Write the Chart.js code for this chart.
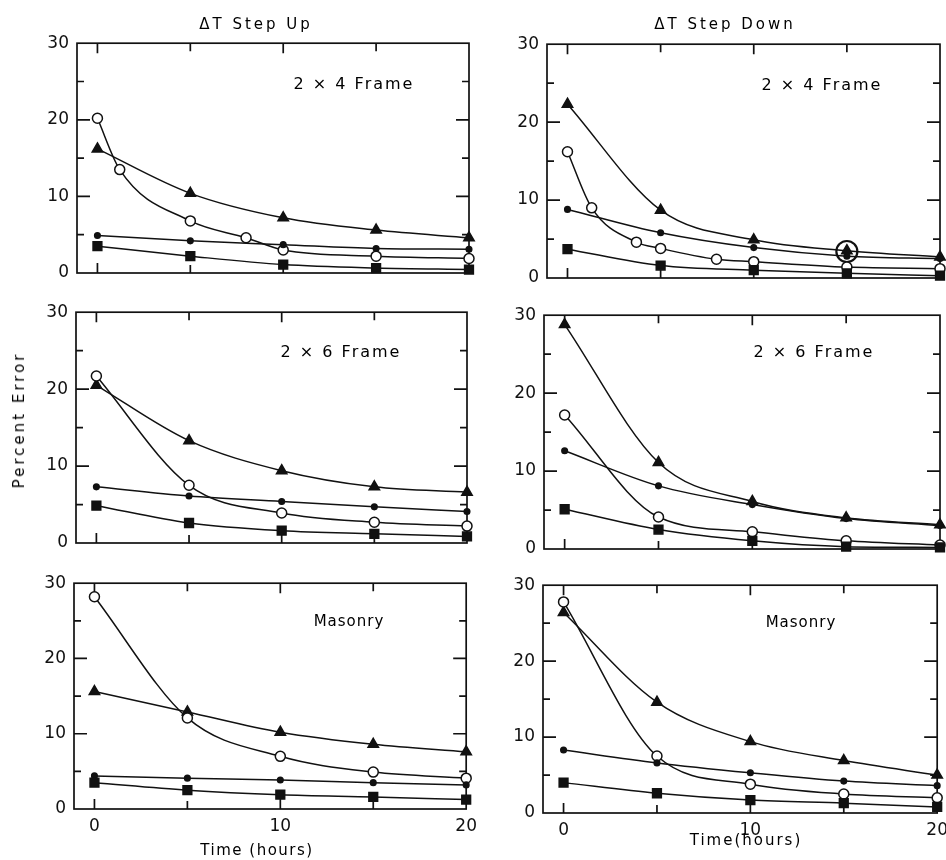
<!DOCTYPE html>
<html>
<head>
<meta charset="utf-8">
<script src="https://cdn.jsdelivr.net/npm/chart.js@4.4.1/dist/chart.umd.min.js"></script>
<style>
  html, body { margin: 0; padding: 0; background: #fff; width: 946px; height: 860px; overflow: hidden; position: relative; }
  canvas { position: absolute; }
  .t { position: absolute; font-family: "DejaVu Sans", sans-serif; color: #000; white-space: nowrap; letter-spacing: 2px; transform: translate(-50%, -50%); }
</style>
</head>
<body>
<script>
// ---------------- DATA ----------------
const hours = [0, 5, 10, 15, 20];
const xTickLabels = [0, 10, 20];
const yTickLabels = [0, 10, 20, 30];

const columnTitles = ["\u0394T  Step Up", "\u0394T  Step Down"];
const panelLabels = ["2 \u00d7 4   Frame", "2 \u00d7 6   Frame", "Masonry"];
const yAxisTitle = "Percent Error";
const xAxisTitles = ["Time (hours)", "Time(hours)"];

// Step Up, 2x4 Frame
const up24Triangle = [16.2, 10.4, 7.2, 5.6, 4.6];
const up24OpenX = [0, 1.2, 5, 8.0, 10, 15, 20];
const up24OpenY = [20.2, 13.5, 6.8, 4.6, 3.0, 2.2, 1.9];
const up24Dot = [4.9, 4.2, 3.7, 3.2, 3.1];
const up24Square = [3.5, 2.2, 1.1, 0.65, 0.45];

// Step Down, 2x4 Frame
const down24Triangle = [22.3, 8.7, 4.9, 3.5, 2.7];
const down24OpenX = [0, 1.3, 3.7, 5, 8.0, 10, 15, 20];
const down24OpenY = [16.2, 9.0, 4.6, 3.8, 2.4, 2.1, 1.4, 1.2];
const down24Dot = [8.8, 5.8, 3.9, 2.8, 2.5];
const down24Square = [3.7, 1.6, 1.0, 0.6, 0.3];
const down24Highlight = [15, 3.4];

// Step Up, 2x6 Frame
const up26Triangle = [20.5, 13.3, 9.4, 7.3, 6.6];
const up26Open = [21.7, 7.5, 3.9, 2.7, 2.2];
const up26Dot = [7.3, 6.1, 5.4, 4.7, 4.1];
const up26Square = [4.85, 2.6, 1.6, 1.2, 0.85];

// Step Down, 2x6 Frame
const down26Triangle = [28.8, 11.1, 6.1, 4.0, 3.1];
const down26Open = [17.2, 4.1, 2.2, 1.05, 0.5];
const down26Dot = [12.6, 8.1, 5.7, 3.9, 3.0];
const down26Square = [5.1, 2.5, 1.05, 0.3, 0.2];

// Step Up, Masonry
const upMasTriangle = [15.6, 12.9, 10.2, 8.6, 7.6];
const upMasOpen = [28.2, 12.1, 7.0, 4.9, 4.1];
const upMasDot = [4.4, 4.1, 3.85, 3.5, 3.2];
const upMasSquare = [3.5, 2.5, 1.9, 1.6, 1.25];

// Step Down, Masonry
const downMasTriangle = [26.4, 14.6, 9.4, 6.9, 5.0];
const downMasOpen = [27.8, 7.5, 3.8, 2.5, 2.0];
const downMasDot = [8.3, 6.6, 5.3, 4.2, 3.6];
const downMasSquare = [4.0, 2.6, 1.7, 1.3, 0.8];

// ---------------- LAYOUT ----------------
const AX_W = 50, AX_H = 34, PAD_T = 14, PAD_R = 14;
const FONT = '"DejaVu Sans", sans-serif';
const INK = '#111';

function pts(xs, ys) { return xs.map((x, i) => ({ x: x, y: ys[i] })); }

function seriesSet(tri, openX, openY, dot, sq, highlight) {
  const base = { borderColor: INK, borderWidth: 1.5, cubicInterpolationMode: 'monotone', clip: false, pointBorderColor: INK, pointBorderWidth: 1.5 };
  const ds = [
    Object.assign({}, base, { data: pts(hours, sq), pointStyle: 'rect', pointRadius: 6.2, pointBackgroundColor: INK }),
    Object.assign({}, base, { data: pts(hours, dot), pointStyle: 'circle', pointRadius: 2.8, pointBackgroundColor: INK }),
    Object.assign({}, base, { data: pts(openX, openY), pointStyle: 'circle', pointRadius: 5, pointBackgroundColor: '#fff' }),
    Object.assign({}, base, { data: pts(hours, tri), pointStyle: 'triangle', pointRadius: 6, pointBackgroundColor: INK }),
  ];
  if (highlight) {
    ds.push({ data: [{ x: highlight[0], y: highlight[1] }], showLine: false, clip: false, pointStyle: 'circle', pointRadius: 10.5, pointBorderWidth: 2.2, pointBorderColor: INK, pointBackgroundColor: 'rgba(0,0,0,0)' });
  }
  return ds;
}

const framePlugin = {
  id: 'frame',
  beforeDatasetsDraw(chart) {
    const { ctx, chartArea: a, scales: { x, y } } = chart;
    ctx.save();
    ctx.strokeStyle = INK;
    ctx.lineWidth = 1.7;
    ctx.strokeRect(a.left, a.top, a.right - a.left, a.bottom - a.top);
    ctx.beginPath();
    [5, 10, 15, 20, 25].forEach(v => {
      const py = y.getPixelForValue(v);
      const len = v % 10 === 0 ? 13 : 7;
      ctx.moveTo(a.left, py); ctx.lineTo(a.left + len, py);
      ctx.moveTo(a.right, py); ctx.lineTo(a.right - len, py);
    });
    [0, 5, 10, 15].forEach(v => {
      const px = x.getPixelForValue(v);
      const len = v % 10 === 0 ? 10 : 8;
      ctx.moveTo(px, a.top); ctx.lineTo(px, a.top + len);
      ctx.moveTo(px, a.bottom); ctx.lineTo(px, a.bottom - len);
    });
    ctx.stroke();
    ctx.restore();
  }
};

function chartConfig(datasets, showX) {
  return {
    type: 'line',
    data: { datasets: datasets },
    options: {
      responsive: false, maintainAspectRatio: false, animation: false, devicePixelRatio: 1,
      layout: { padding: { top: PAD_T, right: PAD_R, left: 0, bottom: 0 } },
      plugins: { legend: { display: false }, tooltip: { enabled: false } },
      scales: {
        x: {
          type: 'linear', min: -1.1, max: 20,
          grid: { display: false, drawTicks: false }, border: { display: false },
          afterBuildTicks: s => { s.ticks = xTickLabels.map(v => ({ value: v })); },
          afterFit: s => { s.height = AX_H; },
          ticks: { display: showX, padding: 7, maxRotation: 0, autoSkip: false, color: INK, font: { family: FONT, size: 17 } }
        },
        y: {
          type: 'linear', min: 0, max: 30,
          grid: { display: false, drawTicks: false }, border: { display: false },
          afterBuildTicks: s => { s.ticks = yTickLabels.map(v => ({ value: v })); },
          afterFit: s => { s.width = AX_W; },
          ticks: { padding: 8, autoSkip: false, color: INK, font: { family: FONT, size: 17 } }
        }
      },
    },
    plugins: [framePlugin]
  };
}

function makeCanvas(w, h) {
  const c = document.createElement('canvas');
  c.width = w; c.height = h;
  c.style.width = w + 'px'; c.style.height = h + 'px';
  document.body.appendChild(c);
  return c;
}

// Size each canvas so that the library's own chart area lands on the panel frame.
function makePanel(L, T, R, B, datasets, showX) {
  let w = (R - L) + AX_W + PAD_R, h = (B - T) + PAD_T + AX_H;
  let c = makeCanvas(w, h);
  let chart = new Chart(c, chartConfig(datasets, showX));
  for (let pass = 0; pass < 2; pass++) {
    const a = chart.chartArea;
    const dw = (R - L) - (a.right - a.left);
    const dh = (B - T) - (a.bottom - a.top);
    if (Math.abs(dw) < 0.5 && Math.abs(dh) < 0.5) break;
    chart.destroy();
    c.remove();
    w = Math.round(w + dw); h = Math.round(h + dh);
    c = makeCanvas(w, h);
    chart = new Chart(c, chartConfig(datasets, showX));
  }
  const a = chart.chartArea;
  c.style.left = (L - a.left) + 'px';
  c.style.top = (T - a.top) + 'px';
}

function label(text, x, y, size, extra) {
  const d = document.createElement('div');
  d.className = 't';
  d.textContent = text;
  d.style.left = x + 'px'; d.style.top = y + 'px';
  d.style.fontSize = size + 'px';
  if (extra) Object.assign(d.style, extra);
  document.body.appendChild(d);
}

makePanel(77, 43, 469, 273, seriesSet(up24Triangle, up24OpenX, up24OpenY, up24Dot, up24Square), false);
makePanel(547, 44, 940, 278, seriesSet(down24Triangle, down24OpenX, down24OpenY, down24Dot, down24Square, down24Highlight), false);
makePanel(76, 312, 467, 543, seriesSet(up26Triangle, hours, up26Open, up26Dot, up26Square), false);
makePanel(544, 315, 940, 549, seriesSet(down26Triangle, hours, down26Open, down26Dot, down26Square), false);
makePanel(74, 583, 466, 809, seriesSet(upMasTriangle, hours, upMasOpen, upMasDot, upMasSquare), true);
makePanel(543, 585, 937, 813, seriesSet(downMasTriangle, hours, downMasOpen, downMasDot, downMasSquare), true);

label(columnTitles[0], 256, 24, 15, { letterSpacing: '3px' });
label(columnTitles[1], 725, 24, 15, { letterSpacing: '3px' });
label(panelLabels[0], 354, 83, 16, { letterSpacing: '2px' });
label(panelLabels[0], 822, 84, 16, { letterSpacing: '2px' });
label(panelLabels[1], 341, 351, 16, { letterSpacing: '2px' });
label(panelLabels[1], 814, 351, 16, { letterSpacing: '2px' });
label(panelLabels[2], 349, 621, 15, { letterSpacing: '1px' });
label(panelLabels[2], 801, 622, 15, { letterSpacing: '1px' });
label(yAxisTitle, 19, 420, 15, { transform: 'translate(-50%, -50%) rotate(-90deg)', letterSpacing: '3px' });
label(xAxisTitles[0], 257, 850, 15, { letterSpacing: '1.5px' });
label(xAxisTitles[1], 746, 840, 15, { letterSpacing: '2px' });
</script>
</body>
</html>
